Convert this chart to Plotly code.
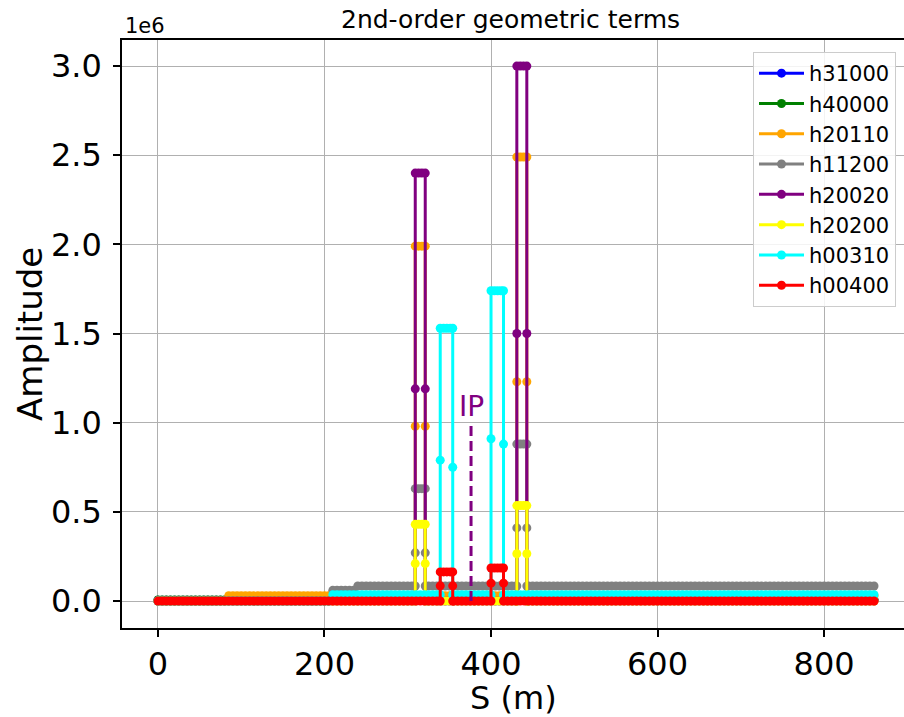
import plotly.graph_objects as go

# ---------------- data ----------------
# lattice positions along the ring (m)
lattice_s = [
    0, 5, 10, 15, 20, 25, 30, 35, 40, 45, 50, 55, 60, 65, 70, 75, 80, 85, 90, 95,
    100, 105, 110, 115, 120, 125, 130, 135, 140, 145, 150, 155, 160, 165, 170, 175, 180, 185, 190, 195,
    200, 205, 210, 215, 220, 225, 230, 235, 240, 245, 250, 255, 260, 265, 270, 275, 280, 285, 290, 295,
    300, 305, 310, 315, 320, 325, 330, 335, 340, 345, 350, 355, 360, 365, 370, 375, 380, 385, 390, 395,
    400, 405, 410, 415, 420, 425, 430, 435, 440, 445, 450, 455, 460, 465, 470, 475, 480, 485, 490, 495,
    500, 505, 510, 515, 520, 525, 530, 535, 540, 545, 550, 555, 560, 565, 570, 575, 580, 585, 590, 595,
    600, 605, 610, 615, 620, 625, 630, 635, 640, 645, 650, 655, 660, 665, 670, 675, 680, 685, 690, 695,
    700, 705, 710, 715, 720, 725, 730, 735, 740, 745, 750, 755, 760, 765, 770, 775, 780, 785, 790, 795,
    800, 805, 810, 815, 820, 825, 830, 835, 840, 845, 850, 855, 860,
]

series_names = ["h31000", "h40000", "h20110", "h11200", "h20020", "h20200", "h00310", "h00400"]
series_colors = ["#0000ff", "#008000", "#ffa500", "#808080", "#800080", "#ffff00", "#00ffff", "#ff0000"]

# baseline plateaus: start S and level
h31000_level_s = [0]
h31000_level_v = [4.0e3]
h40000_level_s = [0]
h40000_level_v = [6.0e3]
h20110_level_s = [0, 83]
h20110_level_v = [0.0, 3.0e4]
h11200_level_s = [0, 209, 238]
h11200_level_v = [0.0, 6.0e4, 8.4e4]
h20020_level_s = [0]
h20020_level_v = [0.0]
h20200_level_s = [0]
h20200_level_v = [0.0]
h00310_level_s = [0, 209]
h00310_level_v = [0.0, 3.5e4]
h00400_level_s = [0]
h00400_level_v = [0.0]

# peaks (S in m, amplitude)
h31000_peak_s = []
h31000_peak_v = []
h40000_peak_s = []
h40000_peak_v = []
h20110_peak_s = [309, 309, 309, 313, 317, 321, 321, 321, 431, 431, 431, 435, 439, 443, 443, 443]
h20110_peak_v = [3.0e4, 0.98e6, 1.99e6, 1.99e6, 1.99e6, 1.99e6, 0.98e6, 3.0e4,
                 3.0e4, 1.23e6, 2.49e6, 2.49e6, 2.49e6, 2.49e6, 1.23e6, 3.0e4]
h11200_peak_s = [309, 309, 309, 313, 317, 321, 321, 321, 431, 431, 431, 435, 439, 443, 443, 443]
h11200_peak_v = [8.4e4, 0.27e6, 0.63e6, 0.63e6, 0.63e6, 0.63e6, 0.27e6, 8.4e4,
                 8.4e4, 0.41e6, 0.88e6, 0.88e6, 0.88e6, 0.88e6, 0.41e6, 8.4e4]
h20020_peak_s = [309, 309, 309, 313, 317, 321, 321, 321, 431, 431, 431, 435, 439, 443, 443, 443]
h20020_peak_v = [0.0, 1.19e6, 2.40e6, 2.40e6, 2.40e6, 2.40e6, 1.19e6, 0.0,
                 0.0, 1.50e6, 3.00e6, 3.00e6, 3.00e6, 3.00e6, 1.50e6, 0.0]
h20200_peak_s = [309, 309, 309, 313, 317, 321, 321, 321, 431, 431, 431, 435, 439, 443, 443, 443]
h20200_peak_v = [0.0, 0.21e6, 0.43e6, 0.43e6, 0.43e6, 0.43e6, 0.21e6, 0.0,
                 0.0, 0.265e6, 0.535e6, 0.535e6, 0.535e6, 0.535e6, 0.265e6, 0.0]
h00310_peak_s = [339, 339, 339, 343, 347, 351, 354, 354, 354, 400, 400, 400, 404, 408, 412, 415, 415, 415]
h00310_peak_v = [3.5e4, 0.79e6, 1.53e6, 1.53e6, 1.53e6, 1.53e6, 1.53e6, 0.75e6, 3.5e4,
                 3.5e4, 0.91e6, 1.74e6, 1.74e6, 1.74e6, 1.74e6, 1.74e6, 0.88e6, 3.5e4]
h00400_peak_s = [339, 339, 339, 343, 347, 351, 354, 354, 354, 400, 400, 400, 404, 408, 412, 415, 415, 415]
h00400_peak_v = [0.0, 0.085e6, 0.163e6, 0.163e6, 0.163e6, 0.163e6, 0.163e6, 0.085e6, 0.0,
                 0.0, 0.10e6, 0.185e6, 0.185e6, 0.185e6, 0.185e6, 0.185e6, 0.10e6, 0.0]

ip_s = 376
ip_top = 1.0e6

y_ticks = [0.0, 0.5e6, 1.0e6, 1.5e6, 2.0e6, 2.5e6, 3.0e6]
y_ticktext = ["0.0", "0.5", "1.0", "1.5", "2.0", "2.5", "3.0"]
x_ticks = [0, 200, 400, 600, 800]

levels_s = [h31000_level_s, h40000_level_s, h20110_level_s, h11200_level_s,
            h20020_level_s, h20200_level_s, h00310_level_s, h00400_level_s]
levels_v = [h31000_level_v, h40000_level_v, h20110_level_v, h11200_level_v,
            h20020_level_v, h20200_level_v, h00310_level_v, h00400_level_v]
peaks_s = [h31000_peak_s, h40000_peak_s, h20110_peak_s, h11200_peak_s,
           h20020_peak_s, h20200_peak_s, h00310_peak_s, h00400_peak_s]
peaks_v = [h31000_peak_v, h40000_peak_v, h20110_peak_v, h11200_peak_v,
           h20020_peak_v, h20200_peak_v, h00310_peak_v, h00400_peak_v]


def level_at(s, lvl_s, lvl_v):
    v = lvl_v[0]
    for a, b in zip(lvl_s, lvl_v):
        if s >= a:
            v = b
    return v


def build(lvl_s, lvl_v, pk_s, pk_v):
    spans = []
    for s in pk_s:
        if spans and s - spans[-1][1] <= 20:
            spans[-1][1] = s
        else:
            spans.append([s, s])
    pts = []
    for s in lattice_s:
        if any(a <= s <= b for a, b in spans):
            continue
        pts.append((s, 0, 0, level_at(s, lvl_s, lvl_v)))
    for i, (s, v) in enumerate(zip(pk_s, pk_v)):
        pts.append((s, 1, i, v))
    pts.sort(key=lambda p: (p[0], p[1], p[2]))
    return [p[0] for p in pts], [p[3] for p in pts]


FONT = "DejaVu Sans"
fig = go.Figure()

for k, name in enumerate(series_names):
    xs, ys = build(levels_s[k], levels_v[k], peaks_s[k], peaks_v[k])
    fig.add_trace(go.Scatter(
        x=xs, y=ys, mode="lines+markers", name=name,
        line=dict(color=series_colors[k], width=3),
        marker=dict(color=series_colors[k], size=9),
        legendgroup=name,
    ))

fig.add_trace(go.Scatter(
    x=[ip_s, ip_s], y=[0, ip_top], mode="lines", showlegend=False,
    line=dict(color="#800080", width=3, dash="10px,5px"),
))

fig.add_annotation(x=ip_s, y=ip_top, xref="x", yref="y", text="IP", showarrow=False,
                   yanchor="bottom", xanchor="center", yshift=-2,
                   font=dict(family=FONT, size=28, color="#800080"))

L, R, T, B = 122, 0, 40, 89
W, H = 904, 717
pw = W - L - R
ph = H - T - B


def px(xpix):
    return (xpix - L) / pw


def py(ypix):
    return (H - B - ypix) / ph


fig.add_annotation(x=px(510), y=py(20), xref="paper", yref="paper", text="2nd-order geometric terms",
                   showarrow=False, xanchor="center", yanchor="middle",
                   font=dict(family=FONT, size=25, color="black"))
fig.add_annotation(x=px(123), y=py(26), xref="paper", yref="paper", text="1e6",
                   showarrow=False, xanchor="left", yanchor="middle",
                   font=dict(family=FONT, size=21, color="black"))
fig.add_annotation(x=0.5, y=py(698), xref="paper", yref="paper", text="S (m)",
                   showarrow=False, xanchor="center", yanchor="middle",
                   font=dict(family=FONT, size=32, color="black"))
fig.add_annotation(x=px(30), y=0.5, xref="paper", yref="paper", text="Amplitude", textangle=-90,
                   showarrow=False, xanchor="center", yanchor="middle",
                   font=dict(family=FONT, size=34, color="black"))

fig.update_layout(
    width=W, height=H,
    margin=dict(l=L, r=R, t=T, b=B, pad=0),
    paper_bgcolor="white", plot_bgcolor="white",
    font=dict(family=FONT, color="black"),
    showlegend=True,
    legend=dict(x=px(896), xanchor="right", y=py(52), yanchor="top",
                bgcolor="rgba(255,255,255,0.85)", bordercolor="#cccccc", borderwidth=1,
                font=dict(family=FONT, size=21, color="black"),
                itemwidth=45, tracegroupgap=7, traceorder="normal"),
    xaxis=dict(range=[-43.2, 896], tickvals=x_ticks, showgrid=True, gridcolor="#b0b0b0", gridwidth=1,
               zeroline=False, showline=True, linecolor="black", linewidth=1.5, mirror=True,
               ticks="outside", ticklen=7, tickwidth=1.5, tickcolor="black",
               tickfont=dict(family=FONT, size=32, color="black")),
    yaxis=dict(range=[-0.1514e6, 3.1464e6], tickvals=y_ticks, ticktext=y_ticktext,
               showgrid=True, gridcolor="#b0b0b0", gridwidth=1,
               zeroline=False, showline=True, linecolor="black", linewidth=1.5, mirror=False,
               ticks="outside", ticklen=7, tickwidth=1.5, tickcolor="black", ticklabelstandoff=5,
               tickfont=dict(family=FONT, size=32, color="black")),
)

fig.write_html("out.html")
